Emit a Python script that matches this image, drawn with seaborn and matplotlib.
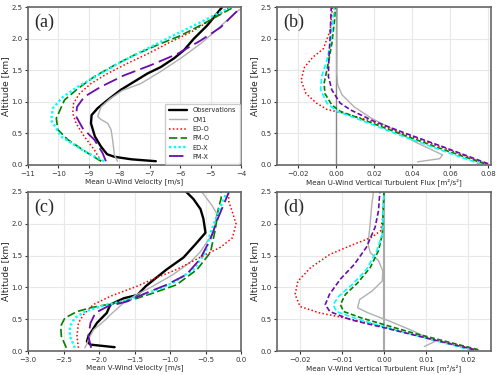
import matplotlib
matplotlib.use("Agg")
import matplotlib.pyplot as plt
import seaborn as sns
import numpy as np

# ---- panel (a): mean U-wind velocity [m/s] ----
a_obs_u = [-6.80, -7.6, -8.16, -8.40, -8.60, -8.80, -8.87, -8.93, -8.91, -8.71, -8.38, -7.95, -7.51, -7.07, -6.64, -6.20, -5.87, -5.55, -5.11, -4.62]
a_obs_z = [0.06, 0.09, 0.13, 0.17, 0.29, 0.45, 0.56, 0.66, 0.79, 0.90, 1.03, 1.19, 1.32, 1.45, 1.55, 1.69, 1.82, 2.00, 2.21, 2.50]
a_cm1_u = [-8.06, -8.16, -8.22, -8.27, -8.38, -8.60, -8.71, -8.60, -8.30, -7.90, -7.29, -6.64, -5.98, -5.33, -4.89, -4.35, -4.02]
a_cm1_z = [0.06, 0.16, 0.40, 0.56, 0.66, 0.72, 0.77, 0.92, 1.05, 1.18, 1.29, 1.48, 1.69, 1.92, 2.10, 2.34, 2.47]
a_edo_u = [-8.60, -8.82, -9.15, -9.42, -9.53, -9.50, -9.31, -8.93, -8.38, -7.73, -7.07, -6.31, -5.66, -5.11, -4.35]
a_edo_z = [0.06, 0.24, 0.45, 0.66, 0.82, 0.98, 1.13, 1.29, 1.45, 1.61, 1.76, 1.95, 2.10, 2.26, 2.50]
a_pmo_u = [-8.60, -9.04, -9.69, -10.02, -10.07, -9.80, -9.36, -8.82, -8.16, -7.51, -6.75, -5.98, -5.22, -4.24]
a_pmo_z = [0.06, 0.19, 0.40, 0.56, 0.74, 1.03, 1.21, 1.40, 1.58, 1.74, 1.90, 2.05, 2.24, 2.50]
a_edx_u = [-8.50, -9.15, -9.91, -10.24, -10.18, -9.85, -9.36, -8.71, -7.95, -7.18, -6.31, -5.33, -4.35]
a_edx_z = [0.06, 0.22, 0.45, 0.71, 0.90, 1.08, 1.24, 1.42, 1.63, 1.82, 2.03, 2.26, 2.50]
a_pmx_u = [-8.44, -8.55, -8.82, -9.20, -9.42, -9.39, -9.15, -8.60, -7.84, -6.97, -6.09, -5.33, -4.67, -4.00]
a_pmx_z = [0.06, 0.19, 0.40, 0.58, 0.77, 0.92, 1.08, 1.24, 1.42, 1.58, 1.76, 1.97, 2.18, 2.50]

# ---- panel (b): mean U-wind vertical turbulent flux [m2/s2] ----
b_cm1_u = [0.0428, 0.0544, 0.0560, 0.0418, 0.0290, 0.0185, 0.0094, 0.0030, 0.0007, 0.0002, 0.0003, 0.0005]
b_cm1_z = [0.05, 0.10, 0.16, 0.36, 0.58, 0.74, 0.92, 1.11, 1.27, 1.45, 2.00, 2.50]
b_edo_u = [0.0790, 0.0547, 0.0347, 0.0167, 0.0040, -0.0050, -0.0105, -0.0160, -0.0186, -0.0168, -0.0123, -0.0069, -0.0033, -0.0024, -0.0020]
b_edo_z = [0.02, 0.29, 0.50, 0.71, 0.82, 0.88, 0.98, 1.13, 1.34, 1.55, 1.71, 1.84, 2.13, 2.40, 2.50]
b_pmo_u = [0.0780, 0.0540, 0.0330, 0.0148, 0.0020, -0.0024, -0.0060, -0.0065, -0.0047, -0.0024, -0.0010, -0.0005]
b_pmo_z = [0.02, 0.27, 0.50, 0.71, 0.85, 0.95, 1.13, 1.29, 1.55, 1.92, 2.29, 2.50]
b_edx_u = [0.0764, 0.0520, 0.0310, 0.0130, 0.0004, -0.0050, -0.0083, -0.0078, -0.0050, -0.0029, -0.0014, -0.0010]
b_edx_z = [0.01, 0.27, 0.50, 0.71, 0.85, 0.98, 1.19, 1.40, 1.66, 1.97, 2.40, 2.50]
b_pmx_u = [0.0800, 0.0560, 0.0366, 0.0200, 0.0076, 0.0020, -0.0024, -0.0042, -0.0040, -0.0033, -0.0027]
b_pmx_z = [0.02, 0.29, 0.50, 0.69, 0.87, 0.98, 1.19, 1.40, 1.66, 2.03, 2.50]

# ---- panel (c): mean V-wind velocity [m/s] ----
c_obs_v = [-1.78, -2.12, -2.17, -2.15, -2.03, -1.89, -1.84, -1.65, -1.46, -1.34, -1.05, -0.81, -0.64, -0.50, -0.53, -0.57, -0.67, -0.77]
c_obs_z = [0.06, 0.10, 0.15, 0.23, 0.44, 0.60, 0.73, 0.83, 0.88, 1.02, 1.28, 1.47, 1.68, 1.86, 2.08, 2.23, 2.39, 2.50]
c_cm1_v = [-2.20, -2.17, -2.15, -2.08, -1.91, -1.84, -1.65, -1.48, -1.24, -0.96, -0.72, -0.58, -0.39, -0.34, -0.41, -0.55]
c_cm1_z = [0.05, 0.11, 0.18, 0.33, 0.49, 0.57, 0.76, 0.88, 1.02, 1.20, 1.39, 1.55, 1.86, 2.16, 2.29, 2.50]
c_edo_v = [-2.29, -2.31, -2.29, -2.22, -2.08, -1.84, -1.46, -1.24, -0.91, -0.58, -0.29, -0.12, -0.07, -0.12, -0.17, -0.18]
c_edo_z = [0.05, 0.23, 0.44, 0.57, 0.73, 0.86, 1.02, 1.13, 1.28, 1.47, 1.63, 1.78, 2.00, 2.18, 2.34, 2.50]
c_pmo_v = [-2.46, -2.53, -2.54, -2.48, -2.31, -2.12, -1.79, -1.46, -1.24, -0.91, -0.62, -0.43, -0.36, -0.32, -0.28, -0.28]
c_pmo_z = [0.05, 0.23, 0.39, 0.52, 0.62, 0.68, 0.75, 0.83, 0.91, 1.04, 1.28, 1.55, 1.92, 2.23, 2.40, 2.50]
c_edx_v = [-2.34, -2.41, -2.41, -2.34, -2.20, -1.98, -1.60, -1.24, -0.96, -0.67, -0.50, -0.43, -0.32, -0.20]
c_edx_z = [0.05, 0.23, 0.39, 0.52, 0.62, 0.70, 0.80, 0.94, 1.07, 1.28, 1.55, 1.86, 2.18, 2.50]
c_pmx_v = [-2.11, -2.15, -2.12, -2.05, -1.88, -1.60, -1.34, -1.05, -0.77, -0.58, -0.43, -0.32, -0.17]
c_pmx_z = [0.05, 0.23, 0.44, 0.60, 0.70, 0.78, 0.91, 1.04, 1.20, 1.44, 1.76, 2.10, 2.50]

# ---- panel (d): mean V-wind vertical turbulent flux [m2/s2] ----
d_cm1_v = [0.0096, 0.0121, 0.0071, 0.0013, -0.0038, -0.0063, -0.0058, -0.0029, -0.0004, -0.0003, -0.0013, -0.0033, -0.0038, -0.0033, -0.0029, -0.0025]
d_cm1_z = [0.07, 0.15, 0.31, 0.47, 0.60, 0.68, 0.81, 0.94, 1.10, 1.26, 1.42, 1.55, 1.68, 2.00, 2.31, 2.50]
d_edo_v = [0.0220, 0.0088, 0.0013, -0.0071, -0.0154, -0.0200, -0.0212, -0.0205, -0.0175, -0.0129, -0.0071, -0.0029, -0.0008, -0.0003, 0.0]
d_edo_z = [0.02, 0.23, 0.36, 0.49, 0.60, 0.70, 0.89, 1.10, 1.31, 1.52, 1.68, 1.79, 1.89, 2.10, 2.50]
d_pmo_v = [0.0225, 0.0071, 0.0013, -0.0054, -0.0096, -0.0104, -0.0092, -0.0063, -0.0033, -0.0013, -0.0004, 0.0]
d_pmo_z = [0.02, 0.28, 0.39, 0.52, 0.62, 0.73, 0.89, 1.07, 1.31, 1.58, 1.84, 2.50]
d_edx_v = [0.0210, 0.0004, -0.0071, -0.0113, -0.0121, -0.0108, -0.0075, -0.0042, -0.0017, -0.0004, 0.0]
d_edx_z = [0.01, 0.37, 0.52, 0.62, 0.73, 0.86, 1.05, 1.28, 1.58, 1.84, 2.50]
d_pmx_v = [0.0215, 0.0004, -0.0079, -0.0129, -0.0140, -0.0130, -0.0104, -0.0071, -0.0042, -0.0021, -0.0013, -0.0010]
d_pmx_z = [0.02, 0.36, 0.49, 0.62, 0.73, 0.89, 1.13, 1.36, 1.63, 1.95, 2.21, 2.50]

sns.set_style("whitegrid", {"grid.color": "#e8e8e8", "axes.edgecolor": "#666666"})

styles = {
    "Observations": dict(color="black", lw=1.7, ls="-"),
    "CM1": dict(color="#b0b0b0", lw=1.0, ls="-"),
    "ED-O": dict(color="red", lw=1.1, ls=(0, (1, 1.5))),
    "PM-O": dict(color="green", lw=1.2, ls=(0, (5, 2))),
    "ED-X": dict(color="cyan", lw=1.7, ls=(0, (1, 1))),
    "PM-X": dict(color="#6a0dad", lw=1.3, ls=(0, (8, 3))),
}
short_dash = {"PM-O": (0, (3, 1.5)), "ED-X": (0, (3, 1.5)), "PM-X": (0, (3, 1.5))}

fig = plt.figure(figsize=(5, 3.75), dpi=100)
pos = {"a": [0.056, 0.56, 0.426, 0.421], "b": [0.554, 0.56, 0.428, 0.421],
       "c": [0.056, 0.064, 0.426, 0.424], "d": [0.554, 0.064, 0.428, 0.424]}


def draw(ax, series, flux):
    for name, x, z in series:
        st = dict(styles[name])
        if flux and name in short_dash:
            st["ls"] = short_dash[name]
            st["lw"] = 1.2
        sns.lineplot(x=x, y=z, sort=False, estimator=None, ax=ax, color=st["color"],
                     linewidth=st["lw"], linestyle=st["ls"], label=name)
    ax.set_ylim(0, 2.5)
    ax.set_yticks(np.arange(0, 2.51, 0.5))
    ax.set_ylabel("Altitude [km]", fontsize=6.5, labelpad=1)
    ax.tick_params(labelsize=5, length=2.5, pad=1.5, colors="#333333")
    ax.tick_params(axis="both", which="both", bottom=True, left=True)
    for s in ax.spines.values():
        s.set_linewidth(1.2)
    if ax.get_legend() is not None:
        ax.get_legend().remove()


xlab_fs = 5.1

ax_a = fig.add_axes(pos["a"])
draw(ax_a, [("Observations", a_obs_u, a_obs_z), ("CM1", a_cm1_u, a_cm1_z), ("ED-O", a_edo_u, a_edo_z),
            ("PM-O", a_pmo_u, a_pmo_z), ("ED-X", a_edx_u, a_edx_z), ("PM-X", a_pmx_u, a_pmx_z)], False)
ax_a.set_xlim(-11, -4)
ax_a.set_xticks(range(-11, -3))
ax_a.set_xlabel("Mean U-Wind Velocity [m/s]", fontsize=xlab_fs, labelpad=1)
ax_a.legend(loc="lower right", fontsize=4.7, handlelength=2.8, frameon=True, framealpha=1,
            borderpad=0.6, labelspacing=0.5, borderaxespad=0.2)

ax_b = fig.add_axes(pos["b"])
ax_b.axvline(0, color="#888888", lw=1.0)
draw(ax_b, [("CM1", b_cm1_u, b_cm1_z), ("ED-O", b_edo_u, b_edo_z), ("PM-O", b_pmo_u, b_pmo_z),
            ("ED-X", b_edx_u, b_edx_z), ("PM-X", b_pmx_u, b_pmx_z)], True)
ax_b.set_xlim(-0.0313, 0.0815)
ax_b.set_xticks([-0.02, 0.0, 0.02, 0.04, 0.06, 0.08])
ax_b.set_xlabel("Mean U-Wind Vertical Turbulent Flux [m\u00b2/s\u00b2]", fontsize=xlab_fs, labelpad=1)

ax_c = fig.add_axes(pos["c"])
draw(ax_c, [("Observations", c_obs_v, c_obs_z), ("CM1", c_cm1_v, c_cm1_z), ("ED-O", c_edo_v, c_edo_z),
            ("PM-O", c_pmo_v, c_pmo_z), ("ED-X", c_edx_v, c_edx_z), ("PM-X", c_pmx_v, c_pmx_z)], False)
ax_c.set_xlim(-3, 0)
ax_c.set_xticks(np.arange(-3, 0.01, 0.5))
ax_c.set_xlabel("Mean V-Wind Velocity [m/s]", fontsize=xlab_fs, labelpad=1)

ax_d = fig.add_axes(pos["d"])
ax_d.axvline(0, color="#aaaaaa", lw=1.5)
draw(ax_d, [("CM1", d_cm1_v, d_cm1_z), ("ED-O", d_edo_v, d_edo_z), ("PM-O", d_pmo_v, d_pmo_z),
            ("ED-X", d_edx_v, d_edx_z), ("PM-X", d_pmx_v, d_pmx_z)], True)
ax_d.set_xlim(-0.0255, 0.0255)
ax_d.set_xticks([-0.02, -0.01, 0.0, 0.01, 0.02])
ax_d.set_xlabel("Mean V-Wind Vertical Turbulent Flux [m\u00b2/s\u00b2]", fontsize=xlab_fs, labelpad=1)

for ax, lab in zip([ax_a, ax_b, ax_c, ax_d], ["(a)", "(b)", "(c)", "(d)"]):
    ax.text(0.03, 0.96, lab, transform=ax.transAxes, fontsize=13, va="top", ha="left",
            family="Liberation Serif")

fig.savefig("out.png", dpi=100)
